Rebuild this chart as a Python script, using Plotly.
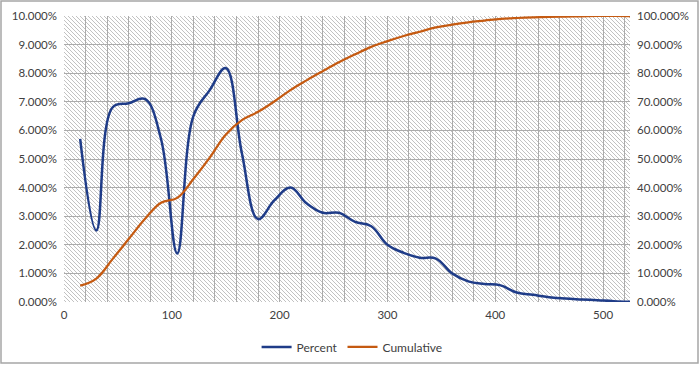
import base64
import plotly.graph_objects as go

# ---- data ----
x_values = [15, 30, 45, 60, 75, 90, 105, 120, 135, 150, 165, 180, 195, 210, 225,
            240, 255, 270, 285, 300, 315, 330, 345, 360, 375, 390, 405, 420, 435,
            450, 465, 480, 495, 510, 525]
percent = [5.70, 2.50, 6.80, 6.95, 7.10, 5.70, 1.70, 6.50, 7.40, 8.18, 5.20, 2.90,
           3.55, 4.00, 3.45, 3.12, 3.12, 2.80, 2.65, 2.00, 1.72, 1.55, 1.52, 1.00,
           0.72, 0.63, 0.58, 0.33, 0.25, 0.17, 0.12, 0.09, 0.06, 0.03, 0.01]
cumulative = [5.7, 8.2, 15.0, 22.0, 29.0, 34.7, 36.4, 43.0, 50.4, 58.5, 63.6, 66.5,
              70.1, 74.1, 77.5, 80.7, 83.8, 86.6, 89.2, 91.2, 93.0, 94.5, 96.0, 97.0,
              97.8, 98.4, 99.0, 99.3, 99.5, 99.7, 99.8, 99.9, 100.0, 100.0, 100.0]
x_tick_values = [0, 100, 200, 300, 400, 500]
left_ticks = [i / 100 for i in range(0, 11)]
right_ticks = [i / 10 for i in range(0, 11)]

W, H = 700, 367
ML, MR, MT, MB = 64, 70, 16, 65
PW, PH = W - ML - MR, H - MT - MB

FONT = "Lato"
TXT = "#404040"
BLUE = "#1F3C88"
ORANGE = "#C55A11"
GRID = "#ababab"

# diagonal hatch background (decorative)
svg = f'''<svg xmlns="http://www.w3.org/2000/svg" width="{PW}" height="{PH}">
<defs><pattern id="h" patternUnits="userSpaceOnUse" width="4" height="4">
<path d="M-1,3 l2,2 M0,0 l4,4 M3,-1 l2,2" stroke="#c2c2c2" stroke-width="1"/>
</pattern></defs>
<rect width="{PW}" height="{PH}" fill="#ffffff"/>
<rect width="{PW}" height="{PH}" fill="url(#h)"/>
</svg>'''
svg_uri = "data:image/svg+xml;base64," + base64.b64encode(svg.encode()).decode()

fig = go.Figure()
fig.add_trace(go.Scatter(
    x=x_values, y=[p / 100 for p in percent], name="Percent", mode="lines",
    line=dict(color=BLUE, width=2.5, shape="spline", smoothing=1.1),
    yaxis="y"))
fig.add_trace(go.Scatter(
    x=x_values, y=[c / 100 for c in cumulative], name="Cumulative", mode="lines",
    line=dict(color=ORANGE, width=2.25, shape="spline", smoothing=1.1),
    yaxis="y2"))

fig.update_layout(
    width=W, height=H,
    margin=dict(l=ML, r=MR, t=MT, b=MB, autoexpand=False),
    paper_bgcolor="white", plot_bgcolor="white",
    font=dict(family=FONT, size=11.5, color=TXT),
    xaxis=dict(range=[0, 525], tickvals=x_tick_values, showgrid=True,
               gridcolor=GRID, gridwidth=1, zeroline=False, showline=False,
               ticks="", ticklabelstandoff=4,
               minor=dict(dtick=20, tick0=0, showgrid=True, gridcolor=GRID,
                          gridwidth=1)),
    yaxis=dict(range=[0, 0.1], tickvals=left_ticks, tickformat=".3%",
               showgrid=True, gridcolor=GRID, gridwidth=1, zeroline=False,
               showline=False, ticks="", ticklabelstandoff=6),
    yaxis2=dict(range=[0, 1.0], tickvals=right_ticks, tickformat=".3%",
                overlaying="y", side="right", showgrid=False, zeroline=False,
                showline=False, ticks="", ticklabelstandoff=6),
    legend=dict(orientation="h", x=0.509, xanchor="center", y=-0.157,
                yanchor="middle", font=dict(size=12, color=TXT),
                bgcolor="rgba(0,0,0,0)", itemwidth=30),
    images=[dict(source=svg_uri, xref="paper", yref="paper", x=0, y=1,
                 sizex=1, sizey=1, sizing="stretch", layer="below",
                 xanchor="left", yanchor="top")],
    shapes=[dict(type="rect", xref="paper", yref="paper",
                 x0=(1 - ML) / PW, x1=(698 - ML) / PW,
                 y0=(MT + PH - 363) / PH, y1=(MT + PH - 1) / PH,
                 line=dict(color="#a6a6a6", width=1.5), layer="below")],
)

fig.write_html("out.html", config={"displayModeBar": False},
               post_script="document.body.style.margin='0';document.body.style.overflow='hidden';")
